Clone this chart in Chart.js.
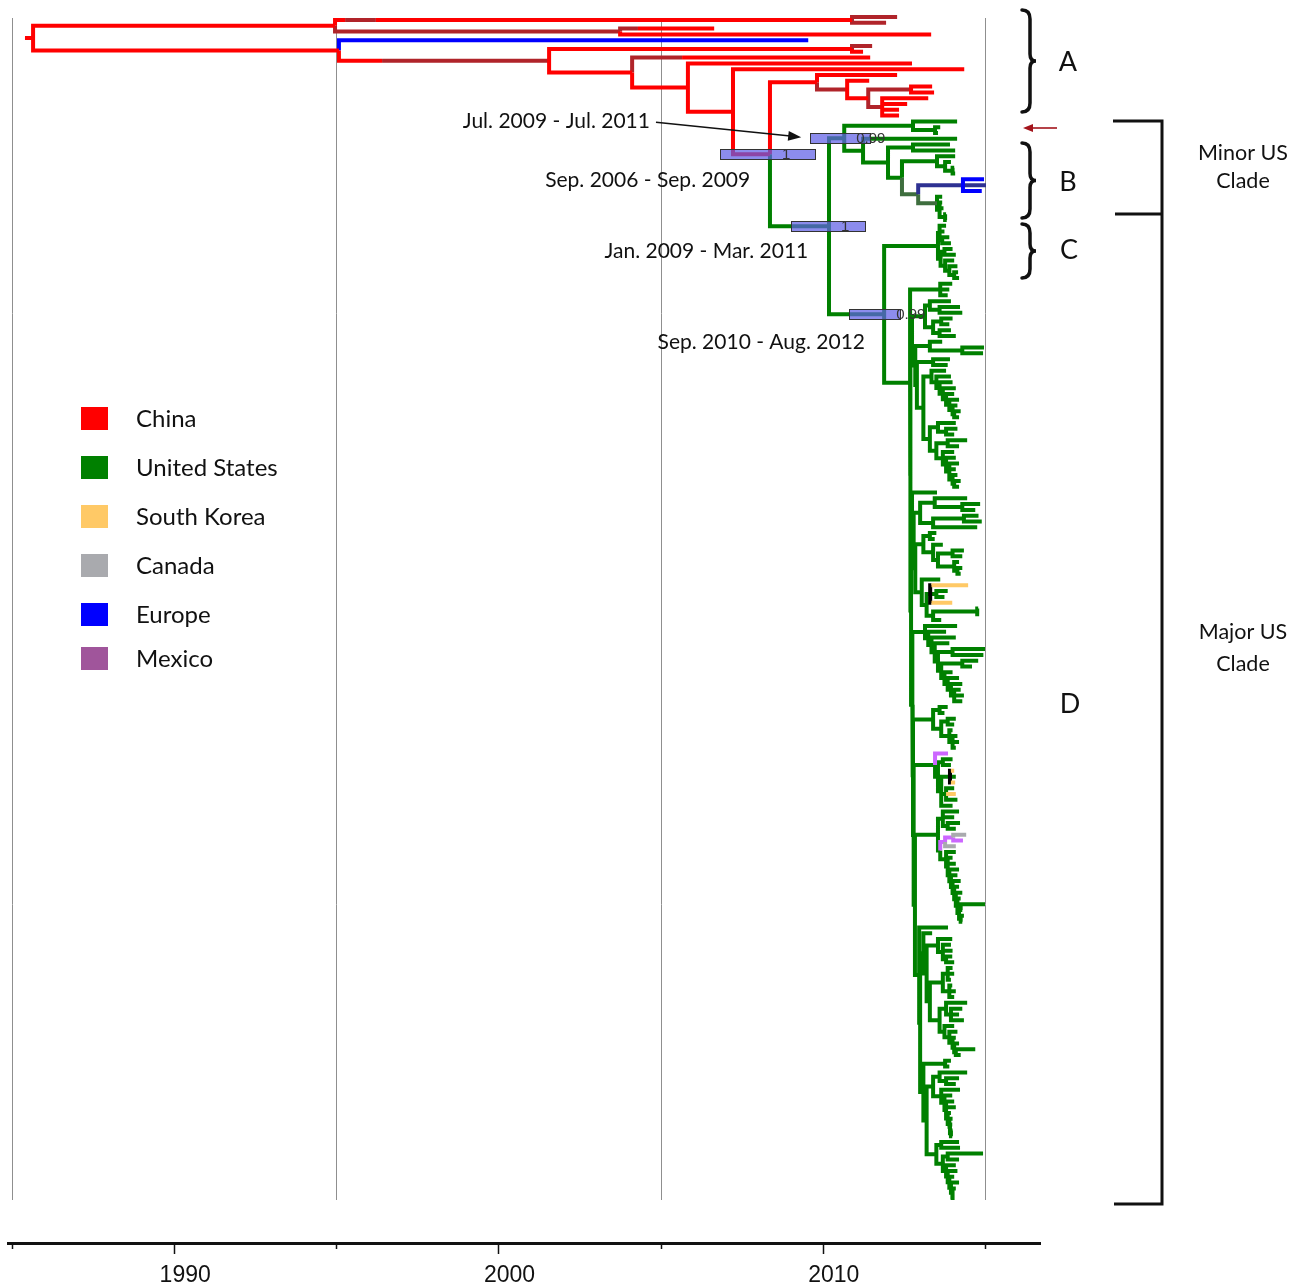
<!DOCTYPE html>
<html><head><meta charset="utf-8">
<script src="https://cdn.jsdelivr.net/npm/chart.js@4.4.1/dist/chart.umd.min.js"></script>
<style>html,body{margin:0;padding:0;background:#fff}</style>
</head><body>
<canvas id="c" width="1298" height="1286"></canvas>
<script>
// ---------------- DATA ----------------
// node = [time(year), colourKey, '#id'?, ...children]; a bare number is a tip that inherits its parent's colour
const legendLabels = ['China','United States','South Korea','Canada','Europe','Mexico'];
const legendColors = ['#FF0000','#008000','#FFC966','#A9AAAE','#0000FF','#A0559B'];
const tickYears = [1985,1990,1995,2000,2005,2010,2015];
const labeledYears = [1990,2000,2010];
const gridYears = [1985,1995,2005,2015];
const rootStart = 1985.40;

const cladeB = [2010.66,'g','#minor',
  [2012.78,'g', 2014.14, [2013.46,'g', 2013.62, 2013.55]],
  [2011.24,'g',
    2014.14,
    [2012.01,'g',
      [2012.78,'g', 2013.92, 2014.08],
      [2012.44,'g',
        [2013.52,'g', 2014.08, [2013.77,'g', 2013.95, [2014.0,'g', 2014.05, 2014.08]]],
        [2012.94,'e',
          [2014.32,'n', [2014.97,'b'], [2015.03,'n'], [2014.9,'b']],
          [2013.52,'e', [2013.68,'g'], [2013.6,'g', [2013.68,'g'], [2013.72,'g'], [2013.77,'g', [2013.8,'g'], [2013.82,'g']]]]
        ]
      ]
    ]
  ]
];

const cladeC = [2013.55,'g',
  [2013.6,'g', 2013.8, 2013.75, [2013.68,'g', 2013.9, 2013.95]],
  [2013.63,'g', [2013.75,'g', 2014.0, 2014.1], [2013.77,'g', 2014.05, [2013.9,'g', 2014.15, [2014.05,'g', 2014.17, 2014.2]]]]
];

// major US clade (D), sub-clades from top to bottom
const s1  = [2013.62,'g', 2013.99, 2013.9, 2013.85];
const s2  = [2013.15,'g', [2013.3,'g', 2013.95, [2013.6,'g', 2014.23, 2014.3]], [2013.4,'g', [2013.65,'g', 2014.0, 2013.9], [2013.6,'g', 2013.95, 2014.1]]];
const s3  = [2013.3,'g', 2013.68, [2014.3,'g', 2014.97, 2014.94]];
const s4  = [2013.4,'g', 2013.92, 2013.85];
const s5  = [2013.35,'g', 2013.8, [2013.5,'g', 2013.95, [2013.6,'g', 2014.0, [2013.7,'g', 2014.1, [2013.8,'g', 2014.05, [2013.9,'g', 2014.2, [2014.0,'g', 2014.15, [2014.05,'g', 2014.25, 2014.2]]]]]]]];
const s6  = [2013.3,'g', [2013.55,'g', 2014.1, [2013.8,'g', 2014.15, 2014.05]], [2013.5,'g', [2013.85,'g', 2014.45, 2014.2], [2013.7,'g', 2014.05, [2013.8,'g', 2014.1, [2013.9,'g', 2014.2, 2014.1, [2014.0,'g', 2014.15, [2014.05,'g', 2014.25, 2014.2]]]]]]];
const s7  = 2013.52;
const s8  = [2013.0,'g', [2013.45,'g', 2014.45, [2014.3,'g', 2014.85, 2014.7]], [2013.4,'g', [2014.35,'g', 2014.8, 2014.9], 2014.76]];
const s9  = [2013.1,'g', [2013.3,'g', 2013.5, 2013.45], [2013.4,'g', 2013.7, [2013.55,'g', [2014.0,'g', 2014.35, 2014.3], [2014.05,'g', 2014.2, [2014.15,'g', 2014.3, 2014.25]]]]];
const s10 = [2013.05,'g', 2013.62, [2013.2,'g',
              [2013.31,'g', [2013.35,'k', [2014.48,'y']], [2013.35,'k', [2013.5,'g', 2013.85, 2013.75]], [2013.35,'k', [2013.99,'y']]],
              [2013.4,'g', [2014.76,'g', 2014.79, 2014.82], 2013.65]]];
const s11 = [2013.15,'g', 2014.14, [2013.25,'g', 2013.8, [2013.35,'g', 2014.1, [2013.45,'g', 2013.9, [2013.55,'g', [2014.0,'g', 2015.0, 2014.95], [2013.65,'g', [2014.3,'g', 2014.79, 2014.6], [2013.75,'g', 2014.0, [2013.85,'g', 2014.2, [2013.95,'g', 2014.3, [2014.05,'g', 2014.25, 2014.35, 2014.3]]]]]]]]]];
const s12 = [2013.4,'g', [2013.6,'g', 2013.85, 2013.75], [2013.65,'g', [2013.85,'g', 2014.1, 2014.05], [2013.9,'g', 2014.0, [2014.0,'g', 2014.15, 2014.2, 2014.1]]]];
const s13 = [2013.46,'g', [2013.86,'p'], [2013.55,'g', [2013.7,'g', 2014.0, 2013.95],
              [2013.65,'g', [2013.92,'g', [2013.95,'k', [2014.05,'y']], [2013.95,'k', [2014.1,'g']], [2013.95,'k', [2014.08,'y']]],
                [2013.8,'g', 2014.05, [2014.1,'y'], 2014.15], 2014.0]]];
const s14 = [2013.55,'g',
  [2013.7,'g', 2014.2, 2014.05, [2013.85,'g', 2014.23, 2014.1]],
  [2013.62,'g',
    [2013.77,'p', [2014.02,'p', [2014.42,'c'], [2014.32,'p']], [2014.1,'c']],
    [2013.8,'g', 2014.1, [2013.85,'g', 2014.0, 2014.1, [2013.9,'g', 2014.2, [2013.95,'g', 2014.15, [2014.0,'g', 2014.25, [2014.05,'g', 2014.2, [2014.1,'g', 2014.3, [2014.15,'g', 2014.25, [2014.2,'g', [2014.25,'g', 2015.0, 2014.3], [2014.25,'g', 2014.35, 2014.3]]]]]]]]]]]];
const s15 = 2013.86;
const s16 = [2013.1,'g', 2013.37,
  [2013.2,'g',
    [2013.55,'g', 2013.99, [2013.7,'g', 2013.95, 2014.0, [2013.8,'g', 2013.99, 2014.05]]],
    [2013.3,'g',
      [2013.7,'g', [2013.85,'g', 2014.0, 2014.05, 2013.95], [2013.9,'g', 2013.99, 2014.1, 2014.05]],
      [2013.6,'g', [2013.8,'g', 2014.45, [2013.95,'g', 2014.3, 2014.2, 2014.35]], [2013.75,'g', 2014.05, [2013.9,'g', 2014.15, [2014.0,'g', 2014.1, [2014.05,'g', 2014.2, [2014.1,'g', 2014.7, 2014.25]]]]]]]]];
const s17 = [2013.77,'g', 2013.95, 2013.9];
const s18 = [2013.4,'g', [2013.6,'g', 2014.45, [2013.8,'g', 2014.2, 2014.1]], [2013.65,'g', 2014.23, [2013.75,'g', 2013.99, [2013.8,'g', 2014.05, 2014.1, [2013.85,'g', 2013.95, [2013.9,'g', 2014.0, [2013.92,'g', 2013.99, [2013.95,'g', 2014.0, 2013.99]]]]]]]];
const s19 = [2013.5,'g', [2013.65,'g', 2014.2, 2014.23], [2013.7,'g', [2013.85,'g', 2014.94, 2014.2], [2013.8,'g', 2014.1, [2013.85,'g', 2014.15, [2013.9,'g', 2014.05, [2013.95,'g', 2014.2, [2014.0,'g', 2014.1, [2014.0,'g', 2013.99, 2014.0]]]]]]]];

const groupD1 = [2012.75,'g', s2, [2012.85,'g', s3, [2012.9,'g', s4, [2013.1,'g', s5, s6]]]];
const groupD2 = [2012.75,'g', s7, [2012.8,'g', s8, [2012.85,'g', s9, s10]]];
const groupD3 = [2012.8,'g', s13, [2012.84,'g', s14, [2012.97,'g', s15, [2013.0,'g', s16, [2013.1,'g', s17, [2013.2,'g', s18, s19]]]]]];
const cladeD = [2012.69,'g', s1, [2012.7,'g', groupD1, [2012.72,'g', groupD2, [2012.76,'g', s11, [2012.78,'g', s12, groupD3]]]]];

const usRoot = [2010.19,'g','#us', cladeB, [2011.89,'g','#cd', cladeC, cladeD]];

const chinaUpper = [1994.96,'r',
  [1995.27,'r', [1996.22,'d', [2010.90,'r', [2012.29,'d'], [2011.95,'d']]]],
  [2003.75,'d', [2004.30,'d', [2006.65,'r']], [2013.34,'r']]
];
const chinaLower = [1995.08,'r',
  [2009.55,'b'],
  [1996.41,'r', [2001.56,'d',
    [2010.90,'r', [2011.52,'d'], [2011.24,'r']],
    [2004.12,'r',
      [2005.66,'d', [2011.46,'r']],
      [2005.84,'r',
        [2012.75,'r'],
        [2007.23,'r',
          [2014.36,'r'],
          [2008.37,'r','#mrca',
            [2009.82,'r', [2012.29,'r'],
              [2010.75,'d', [2011.43,'r'],
                [2011.40,'r', [2012.72,'d', [2013.37,'r'], [2013.43,'r']],
                  [2011.83,'d', [2013.25,'r'], [2012.60,'r'], [2012.35,'r'], [2012.35,'r']]]]],
            usRoot
          ]
        ]
      ]
    ]
  ]]
];
const treeRoot = [1985.65,'r', chinaUpper, chinaLower];

// 95% HPD intervals (years) and posterior support at dated nodes
const hpdNodes = ['minor','mrca','us','cd'];
const hpdLow   = [2009.61, 2006.83, 2009.02, 2010.81];
const hpdHigh  = [2011.46, 2009.76, 2011.30, 2012.38];
const posterior = ['0.99','1','1','0.99'];
const hpdText = ['Jul. 2009 - Jul. 2011','Sep. 2006 - Sep. 2009','Jan. 2009 - Mar. 2011','Sep. 2010 - Aug. 2012'];

// ---------------- STYLE / LAYOUT ----------------
const COLORS = {r:'#FF0000', d:'#B0242A', b:'#0000FF', g:'#008000', n:'#2E3192', e:'#3E6E3E', k:'#000000', y:'#FFC966', p:'#CC66FF', c:'#A9AAAE'};
const drawOrder = ['g','e','n','b','d','r','p','c','k','y'];
const labelRight = [2004.67, 2007.76, 2009.55, 2011.30]; // right edge of date labels (year)
const labelDy = [-17, 26, 25, 28];                        // px offset from node
const FONT = 'Lato, "Open Sans", sans-serif';

function norm(n, pc){
  if (typeof n === 'number') return {t:n, col:pc, kids:[]};
  const t = n[0], col = n[1]; let id = null; const kids = [];
  for (let i = 2; i < n.length; i++){ const v = n[i]; if (typeof v === 'string') id = v.slice(1); else kids.push(norm(v, col)); }
  return {t, col, id, kids};
}
const root = norm(treeRoot, 'r');
let tipCount = 0; const ids = {};
(function layout(n){
  if (n.id) ids[n.id] = n;
  if (!n.kids.length) { n.y = tipCount++; }
  else { n.kids.forEach(layout); n.y = (n.kids[0].y + n.kids[n.kids.length-1].y)/2; }
})(root);
const segs = {};
function addPath(col, pts){ (segs[col] = segs[col] || []).push(...pts, {x:null, y:null}); }
addPath(root.col, [{x:rootStart, y:root.y}, {x:root.t, y:root.y}]);
(function walk(n){ n.kids.forEach(k => { addPath(k.col, [{x:n.t,y:n.y},{x:n.t,y:k.y},{x:k.t,y:k.y}]); walk(k); }); })(root);

const datasets = drawOrder.filter(c => segs[c]).map((c, i) => ({
  data: segs[c], borderColor: COLORS[c], borderWidth: 4, pointRadius: 0, fill: false,
  spanGaps: false, tension: 0, clip: false, order: drawOrder.length - i,
  borderJoinStyle: 'miter', borderCapStyle: 'butt'
}));

// pixel layout of the plot
const TOP_TIP_PX = 17, LAST_TIP_PX = 1200, AXIS_PX = 1243;
const rowStep = (LAST_TIP_PX - TOP_TIP_PX) / (tipCount - 1);
const yMin = -TOP_TIP_PX / rowStep, yMax = (AXIS_PX - TOP_TIP_PX) / rowStep;
const PX_PER_YEAR = (985 - 12) / 30;
const xMin = 1985 - 4 / PX_PER_YEAR, xMax = 1985 + (1040 - 12) / PX_PER_YEAR;

function brace(ctx, x, y0, y1){
  const ym = (y0 + y1) / 2, w = 8;
  ctx.beginPath();
  ctx.moveTo(x, y0);
  ctx.quadraticCurveTo(x + w, y0, x + w, y0 + 9);
  ctx.lineTo(x + w, ym - 7);
  ctx.quadraticCurveTo(x + w, ym, x + w + 6, ym);
  ctx.quadraticCurveTo(x + w, ym, x + w, ym + 7);
  ctx.lineTo(x + w, y1 - 9);
  ctx.quadraticCurveTo(x + w, y1, x, y1);
  ctx.stroke();
}

const deco = {
  id: 'deco',
  beforeDatasetsDraw(chart){
    const {ctx, scales:{x, y}} = chart;
    ctx.save(); ctx.strokeStyle = '#8f8f8f'; ctx.lineWidth = 1;
    gridYears.forEach(v => { const px = Math.round(x.getPixelForValue(v)) + 0.5;
      ctx.beginPath(); ctx.moveTo(px, y.getPixelForValue(0) + 1); ctx.lineTo(px, y.getPixelForValue(tipCount - 1)); ctx.stroke(); });
    ctx.restore();
  },
  afterDatasetsDraw(chart){
    const {ctx, scales:{x, y}} = chart;
    ctx.save();
    hpdNodes.forEach((id, i) => {
      const n = ids[id]; const py = y.getPixelForValue(n.y);
      const x0 = x.getPixelForValue(hpdLow[i]), x1 = x.getPixelForValue(hpdHigh[i]);
      ctx.fillStyle = 'rgba(95,95,230,0.72)'; ctx.fillRect(x0, py - 5, x1 - x0, 10);
      ctx.strokeStyle = '#333'; ctx.lineWidth = 1; ctx.strokeRect(Math.round(x0)+0.5, Math.round(py - 5)+0.5, Math.round(x1 - x0), 10);
      ctx.fillStyle = '#333'; ctx.font = '15px "Liberation Sans", Arial, sans-serif';
      ctx.textAlign = 'left'; ctx.textBaseline = 'middle';
      ctx.fillText(posterior[i], x.getPixelForValue(n.t) + 12, py + 1);
      ctx.fillStyle = '#111'; ctx.font = '21px ' + FONT; ctx.textAlign = 'right';
      ctx.fillText(hpdText[i], x.getPixelForValue(labelRight[i]), py + labelDy[i]);
    });
    // arrow from first label to its interval
    const m = ids['minor']; const my = y.getPixelForValue(m.y);
    const ax0 = x.getPixelForValue(labelRight[0]) + 6, ay0 = my + labelDy[0] + 1;
    const ax1 = x.getPixelForValue(hpdLow[0]) - 9, ay1 = my - 1;
    ctx.strokeStyle = '#111'; ctx.lineWidth = 1.5;
    ctx.beginPath(); ctx.moveTo(ax0, ay0); ctx.lineTo(ax1 - 6, ay1 - 0.7); ctx.stroke();
    const ang = Math.atan2(ay1 - ay0, ax1 - ax0);
    ctx.fillStyle = '#111'; ctx.beginPath();
    ctx.moveTo(ax1, ay1);
    ctx.lineTo(ax1 - 13*Math.cos(ang) + 5*Math.sin(ang), ay1 - 13*Math.sin(ang) - 5*Math.cos(ang));
    ctx.lineTo(ax1 - 13*Math.cos(ang) - 5*Math.sin(ang), ay1 - 13*Math.sin(ang) + 5*Math.cos(ang));
    ctx.closePath(); ctx.fill();
    ctx.restore();
  },
  afterDraw(chart){
    const {ctx, scales:{x}} = chart;
    ctx.save();
    // axis tick marks
    ctx.strokeStyle = '#111'; ctx.lineWidth = 1.5;
    tickYears.forEach(v => { const px = Math.round(x.getPixelForValue(v)) + 0.5; const len = labeledYears.includes(v) ? 11 : 6;
      ctx.beginPath(); ctx.moveTo(px, AXIS_PX); ctx.lineTo(px, AXIS_PX + len); ctx.stroke(); });
    // legend
    legendLabels.forEach((lab, i) => {
      const top = [407, 456, 505, 554, 603, 647][i];
      ctx.fillStyle = legendColors[i]; ctx.fillRect(81, top, 27, 23);
      ctx.fillStyle = '#111'; ctx.font = '24px ' + FONT; ctx.textAlign = 'left'; ctx.textBaseline = 'middle';
      ctx.fillText(lab, 136, top + 12);
    });
    // clade braces
    ctx.strokeStyle = '#111'; ctx.lineWidth = 3.5; ctx.lineCap = 'round';
    brace(ctx, 1022, 10, 112); brace(ctx, 1022, 143, 218); brace(ctx, 1022, 224, 278);
    ctx.lineCap = 'butt';
    ctx.font = '27px ' + FONT; ctx.fillStyle = '#111'; ctx.textAlign = 'center'; ctx.textBaseline = 'middle';
    ctx.fillText('A', 1068, 62); ctx.fillText('B', 1068, 182); ctx.fillText('C', 1069, 250); ctx.fillText('D', 1070, 704);
    // red arrow
    ctx.strokeStyle = '#A3141C'; ctx.fillStyle = '#A3141C'; ctx.lineWidth = 1.6;
    ctx.beginPath(); ctx.moveTo(1057, 128); ctx.lineTo(1030, 128); ctx.stroke();
    ctx.beginPath(); ctx.moveTo(1023, 128); ctx.lineTo(1033, 124); ctx.lineTo(1033, 132); ctx.closePath(); ctx.fill();
    // clade brackets
    ctx.strokeStyle = '#111'; ctx.lineWidth = 3;
    ctx.beginPath(); ctx.moveTo(1113, 121); ctx.lineTo(1162, 121); ctx.lineTo(1162, 1204); ctx.lineTo(1114, 1204);
    ctx.moveTo(1115, 214); ctx.lineTo(1162, 214); ctx.stroke();
    ctx.font = '21.5px ' + FONT; ctx.fillStyle = '#111';
    ctx.fillText('Minor US', 1243, 153); ctx.fillText('Clade', 1243, 181);
    ctx.fillText('Major US', 1243, 632); ctx.fillText('Clade', 1243, 664);
    ctx.restore();
  }
};

new Chart(document.getElementById('c'), {
  type: 'line',
  data: { datasets },
  options: {
    responsive: false, animation: false, events: [],
    layout: { padding: { left: 8, right: 258, top: 0, bottom: 0 } },
    plugins: { legend: { display: false }, tooltip: { enabled: false } },
    scales: {
      x: { type: 'linear', min: xMin, max: xMax,
        afterBuildTicks: s => { s.ticks = tickYears.map(v => ({ value: v })); },
        afterFit: s => { s.height = 1286 - AXIS_PX; },
        grid: { display: false, drawTicks: true, tickLength: 19 },
        border: { display: true, color: '#111', width: 3 },
        ticks: { autoSkip: false, maxRotation: 0, padding: 0, labelOffset: 11, color: '#111',
          font: { family: '"Liberation Sans", Arial, sans-serif', size: 23 },
          callback: v => labeledYears.includes(v) ? String(v) : '' } },
      y: { type: 'linear', reverse: true, min: yMin, max: yMax, display: false }
    }
  },
  plugins: [deco]
});
</script>
</body></html>
